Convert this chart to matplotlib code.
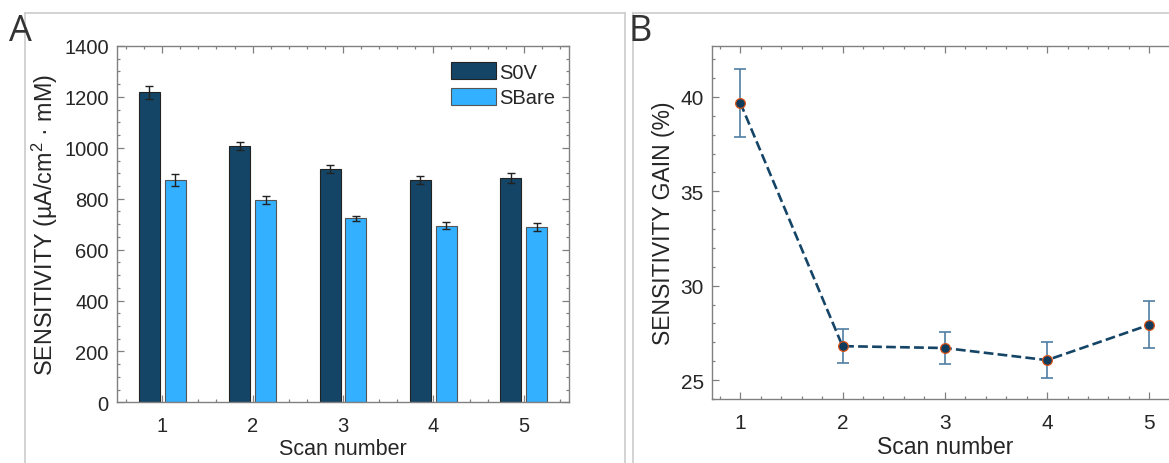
import numpy as np
import matplotlib
matplotlib.use("Agg")
from matplotlib import pyplot as plt
from matplotlib.lines import Line2D
from matplotlib.ticker import MultipleLocator

plt.rcParams["font.family"] = ["Liberation Sans", "DejaVu Sans"]
plt.rcParams["mathtext.fontset"] = "custom"
plt.rcParams["mathtext.rm"] = "Liberation Sans"
plt.rcParams["mathtext.it"] = "Liberation Sans:italic"

# data
scans = [1, 2, 3, 4, 5]
s0v = [1218, 1007, 917, 873, 881]
s0v_err = [25, 15, 17, 17, 19]
sbare = [873, 794, 723, 694, 689]
sbare_err = [25, 15, 10, 14, 16]
gain = [39.7, 26.8, 26.7, 26.06, 27.93]
gain_err = [1.8, 0.9, 0.85, 0.95, 1.25]

DARK = "#154566"
LIGHT = "#33b0ff"
SPINE = "#808080"
TEXT = "#262626"
FRAME = "#cccccc"

W, H = 1169, 464
fig = plt.figure(figsize=(W / 100, H / 100), dpi=100)


def px_axes(left, top, right, bottom):
    return fig.add_axes([left / W, 1 - bottom / H, (right - left) / W, (bottom - top) / H])


def style(ax, tick_size):
    for sp in ax.spines.values():
        sp.set_color(SPINE)
        sp.set_linewidth(1.0)
    ax.tick_params(which="both", direction="in", top=True, right=True,
                   color=SPINE, labelcolor=TEXT, labelsize=tick_size, width=0.9)
    ax.tick_params(which="major", length=5, pad=6)
    ax.tick_params(which="minor", length=2.5)
    ax.tick_params(axis="x", which="major", pad=10)


# panel frames (two pasted images)
for seg in [((25, 13.5), (625, 13.5)), ((633, 13.5), (W, 13.5)),
            ((25, 13.5), (25, H)), ((625, 13.5), (625, H)), ((633, 13.5), (633, H))]:
    (x0, y0), (x1, y1) = seg
    fig.add_artist(Line2D([x0 / W, x1 / W], [1 - y0 / H, 1 - y1 / H],
                          transform=fig.transFigure, color=FRAME, lw=1.2))

fig.text(9 / W, 1 - 41 / H, "A", fontsize=26, family="Open Sans", color="#333333")
fig.text(628 / W, 1 - 41 / H, "B", fontsize=26, family="Open Sans", color="#333333")

# ---- panel A: bars
ax1 = px_axes(117, 47, 569, 403.3)
x = np.array(scans, dtype=float)
off = 0.143
bw = 0.232
ax1.bar(x - off, s0v, bw, color=DARK, edgecolor="#222222", lw=0.8, label="S0V", zorder=2)
ax1.bar(x + off, sbare, bw, color=LIGHT, edgecolor="#555555", lw=0.8, label="SBare", zorder=2)
ax1.errorbar(x - off, s0v, yerr=s0v_err, fmt="none", ecolor="#222222", elinewidth=1,
             capsize=3, capthick=1, zorder=3)
ax1.errorbar(x + off, sbare, yerr=sbare_err, fmt="none", ecolor="#222222", elinewidth=1,
             capsize=3, capthick=1, zorder=3)
ax1.set_xlim(0.5, 5.5)
ax1.set_ylim(0, 1400)
ax1.set_xticks(scans)
ax1.yaxis.set_major_locator(MultipleLocator(200))
ax1.yaxis.set_minor_locator(MultipleLocator(50))
ax1.xaxis.set_minor_locator(MultipleLocator(0.2))
style(ax1, 14.5)
ax1.set_xlabel("Scan number", fontsize=15.5, color=TEXT, labelpad=2)
ax1.set_ylabel("SENSITIVITY (µA/cm$^{2}$ · mM)", fontsize=16.8, color=TEXT, labelpad=3)
leg = ax1.legend(loc="upper left", bbox_to_anchor=(0.74, 0.955), frameon=False,
                 fontsize=14.5, handlelength=2.2, handleheight=0.95, handletextpad=0.15,
                 labelspacing=0.3, borderpad=0, borderaxespad=0)
for t in leg.get_texts():
    t.set_color(TEXT)

# ---- panel B: gain
ax2 = px_axes(712, 47, 1178, 400)
ax2.errorbar(scans, gain, yerr=gain_err, fmt="none", ecolor="#4f7fa3", elinewidth=1.2,
             capsize=4, capthick=1.2, zorder=2)
ax2.plot(scans, gain, ls="--", color=DARK, lw=1.9, zorder=3)
ax2.plot(scans, gain, ls="none", marker="o", ms=7, mfc="#0f3b5c", mec="#d95319",
         mew=0.9, zorder=4)
ax2.set_xlim(0.724, 5.28)
ax2.set_ylim(24, 42.7)
ax2.set_xticks(scans)
ax2.set_yticks([25, 30, 35, 40])
ax2.yaxis.set_minor_locator(MultipleLocator(1))
ax2.xaxis.set_minor_locator(MultipleLocator(0.2))
style(ax2, 15)
ax2.set_xlabel("Scan number", fontsize=16.5, color=TEXT, labelpad=2)
ax2.set_ylabel("SENSITIVITY GAIN (%)", fontsize=16.5, color=TEXT, labelpad=4)

fig.savefig("out.png", dpi=100)
